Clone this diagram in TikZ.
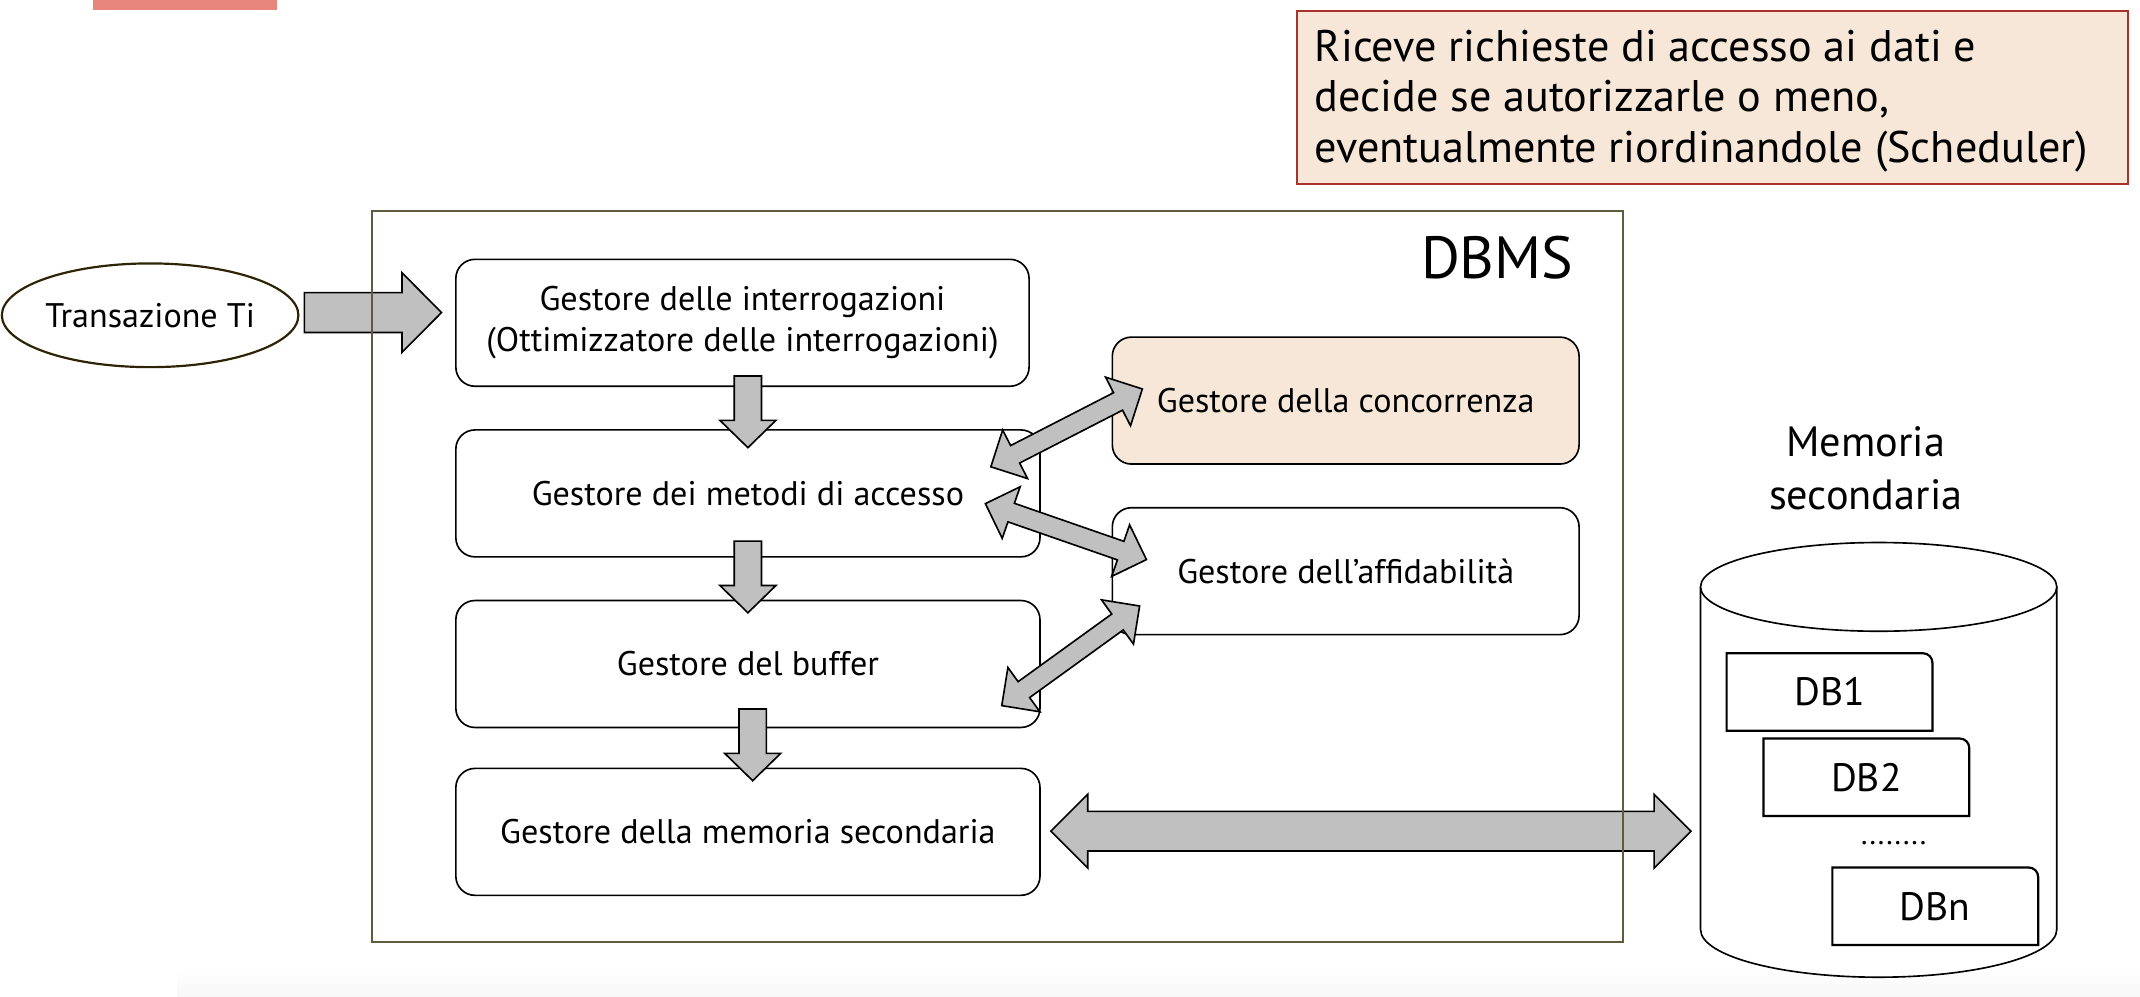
\documentclass[tikz,border=0pt]{standalone}
\usepackage{fontspec}
\setmainfont{PT Sans}
\usetikzlibrary{calc,shapes.geometric}
\definecolor{peach}{RGB}{246,231,217}
\definecolor{notered}{RGB}{170,50,45}
\definecolor{framecol}{RGB}{95,91,60}
\definecolor{salmon}{RGB}{232,133,125}
\definecolor{arrowgray}{RGB}{192,192,192}
\definecolor{ellborder}{RGB}{45,35,5}
\tikzset{
  box/.style={draw=black, line width=0.6pt, rounded corners=7pt, minimum width=214pt,
    minimum height=46.5pt, inner sep=0pt, align=center, font=\fontsize{12.5}{15}\selectfont},
  fatar/.style={fill=arrowgray, draw=black, line width=0.6pt, line join=miter},
  dbbox/.style={minimum width=75pt, minimum height=28pt, inner sep=0pt, font=\fontsize{14.5}{17}\selectfont},
  dbline/.style={draw=black, line width=0.8pt},
}
\newcommand\fatarrow[5]{%
  \coordinate (fa-q) at ($(#2)!#5!(#1)$);
  \filldraw[fatar] ($(#1)!#3!90:(#2)$) -- ($(fa-q)!#3!-90:(#1)$) -- ($(fa-q)!#4!-90:(#1)$)
    -- (#2) -- ($(fa-q)!#4!90:(#1)$) -- ($(fa-q)!#3!90:(#1)$) -- ($(#1)!#3!-90:(#2)$) -- cycle;}
\newcommand\fatdarrow[5]{%
  \coordinate (fa-p) at ($(#1)!#5!(#2)$);
  \coordinate (fa-q) at ($(#2)!#5!(#1)$);
  \filldraw[fatar] (#1) -- ($(fa-p)!#4!90:(#2)$) -- ($(fa-p)!#3!90:(#2)$) -- ($(fa-q)!#3!-90:(#1)$)
    -- ($(fa-q)!#4!-90:(#1)$) -- (#2) -- ($(fa-q)!#4!90:(#1)$) -- ($(fa-q)!#3!90:(#1)$)
    -- ($(fa-p)!#3!-90:(#2)$) -- ($(fa-p)!#4!-90:(#2)$) -- cycle;}
\begin{document}
\begin{tikzpicture}[x=0.5pt,y=-0.5pt]
\useasboundingbox (0,0) rectangle (1568,730);
\shade[top color=white, bottom color=black!3] (130,708) rectangle (1568,730);
\fill[salmon] (68,0) rectangle (203,7);

% note
\node[draw=notered, fill=peach, line width=0.7pt, minimum width=304.5pt, minimum height=63.5pt, inner sep=0pt] (note) at (1254.5,71.5) {};
\node[anchor=west, align=left, inner sep=0pt, font=\fontsize{16.2}{18.5}\selectfont] (notetext) at (963,74)
  {Riceve richieste di accesso ai dati e\\decide se autorizzarle o meno,\\eventualmente riordinandole (Scheduler)};

% DBMS frame (drawn later)
\node[minimum width=458pt, minimum height=267.5pt, inner sep=0pt] (dbms) at (731,422.5) {};
\node[font=\fontsize{21.8}{24}\selectfont, inner sep=0pt] (dbmslabel) at (1097,189) {DBMS};

% transaction
\node[ellipse, draw=ellborder, line width=0.8pt, minimum width=103pt, minimum height=38pt, inner sep=0pt,
  font=\fontsize{12.5}{15}\selectfont] (tx) at (110,231) {Transazione Ti};

% boxes
\node[box, minimum width=210pt] (q) at (544,236.5) {Gestore delle interrogazioni\\(Ottimizzatore delle interrogazioni)};
\node[box] (ma) at (548,361.5) {Gestore dei metodi di accesso};
\node[box] (buf) at (548,486.5) {Gestore del buffer};
\node[box] (ms) at (548,609.5) {Gestore della memoria secondaria};
\node[box, fill=peach, minimum width=171pt] (conc) at (986,293.5) {Gestore della concorrenza};
\node[box, minimum width=171pt] (aff) at (986,418.5) {Gestore dell'affidabilità};

% secondary memory
\node[align=center, font=\fontsize{15.5}{19.5}\selectfont, inner sep=0pt] (memlabel) at (1367,343) {Memoria\\secondaria};
\node[minimum width=130.5pt, minimum height=159.3pt, inner sep=0pt] (disk) at (1376.5,557) {};
\filldraw[fill=white, draw=black, line width=0.6pt] (1246,430) -- (1246,681)
  arc[start angle=180, end angle=0, x radius=130.5, y radius=35] -- (1507,430);
\filldraw[fill=white, draw=black, line width=0.6pt] (1376.5,430) ellipse [x radius=130.5, y radius=32.5];

\node[dbbox] (db1) at (1340.5,507) {DB1};
\node[dbbox] (db2) at (1367.5,569.5) {DB2};
\node[dbbox] (dbn) at (1418,664) {DBn};
\foreach \d in {db1,db2,dbn}{
  \draw[dbline] (\d.south west) -- (\d.north west) -- ($(\d.north east)+(-7,0)$)
    arc[start angle=90, end angle=0, radius=3.5pt] -- (\d.south east) -- cycle;}
\node[anchor=base, inner sep=0pt, font=\fontsize{11}{13}\selectfont] (dots) at (1387.5,619) {........};

% arrows
\coordinate (t1) at (223,229); \coordinate (t2) at (323.5,229);
\fatarrow{t1}{t2}{7.3pt}{14.6pt}{14.5pt}
\coordinate (d1a) at (548,275.5); \coordinate (d1b) at (548,328);
\coordinate (d2a) at (548,396.5); \coordinate (d2b) at (548,449);
\coordinate (d3a) at (551.5,519.5); \coordinate (d3b) at (551.5,572);
\fatarrow{d1a}{d1b}{5pt}{10.25pt}{10pt}
\fatarrow{d2a}{d2b}{5pt}{10.25pt}{10pt}
\fatarrow{d3a}{d3b}{5pt}{10.25pt}{10pt}
\coordinate (a1) at (726,342); \coordinate (a2) at (837,285);
\coordinate (b1) at (722,369); \coordinate (b2) at (840,410);
\coordinate (c1) at (734,517); \coordinate (c2) at (835,444);
\fatdarrow{a1}{a2}{3.6pt}{10pt}{10pt}
\fatdarrow{b1}{b2}{3.6pt}{10pt}{10pt}
\fatdarrow{c1}{c2}{3.6pt}{10pt}{10pt}
\coordinate (m1) at (770,609); \coordinate (m2) at (1239,609);
\fatdarrow{m1}{m2}{7.25pt}{13.5pt}{13.5pt}

% frame on top
\draw[framecol, line width=0.8pt] (dbms.north west) rectangle (dbms.south east);
\end{tikzpicture}
\end{document}
